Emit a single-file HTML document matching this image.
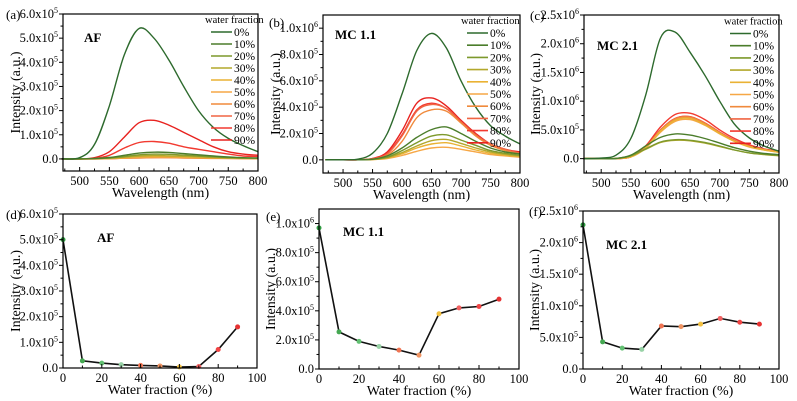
<!DOCTYPE html>
<html><head><meta charset="utf-8">
<style>
html,body{margin:0;padding:0;background:#fff;}
svg{display:block;}
svg text{font-family:"Liberation Serif","DejaVu Serif",serif;}
</style></head>
<body>
<svg id="fig" width="797" height="401" viewBox="0 0 797 401" xmlns="http://www.w3.org/2000/svg" font-family="Liberation Serif, DejaVu Serif, serif"></svg>
<script>
// ---------- data (intensity in units of 1e5) ----------
const wavelengths = [470,500,525,550,575,600,625,650,675,700,725,750,775,800];
const fractionLabels = ["0%","10%","20%","30%","40%","50%","60%","70%","80%","90%"];
const seriesColors = ["#2d6a2d","#4b7d2b","#7d992c","#b3a82c","#eab234","#f6a746","#f08a3c","#f06543","#f23a30","#e8221f"];

const afSpectra = [
 [0,0.05,0.6,2.2,4.3,5.4,5.0,4.1,3.0,2.0,1.3,0.85,0.55,0.3],
 [0,0,0.02,0.06,0.15,0.24,0.28,0.27,0.22,0.17,0.12,0.08,0.05,0.04],
 [0,0,0.01,0.04,0.1,0.17,0.2,0.19,0.16,0.12,0.09,0.06,0.04,0.03],
 [0,0,0.01,0.03,0.07,0.12,0.14,0.13,0.11,0.09,0.06,0.04,0.03,0.02],
 [0,0,0.01,0.02,0.05,0.09,0.1,0.1,0.08,0.06,0.05,0.03,0.02,0.02],
 [0,0,0,0.02,0.04,0.07,0.08,0.08,0.07,0.05,0.04,0.03,0.02,0.02],
 [0,0,0,0.01,0.03,0.04,0.05,0.05,0.04,0.03,0.02,0.02,0.01,0.01],
 [0,0,0,0.01,0.03,0.05,0.06,0.06,0.05,0.04,0.03,0.02,0.02,0.01],
 [0,0,0.02,0.15,0.45,0.68,0.72,0.65,0.5,0.4,0.3,0.2,0.12,0.1],
 [0,0,0.05,0.3,0.9,1.5,1.6,1.4,1.1,0.8,0.5,0.3,0.2,0.15]
];
const mc11Spectra = [
 [0,0,0.05,0.5,2.0,5.0,8.3,9.6,8.5,6.0,4.0,2.6,1.8,1.2],
 [0,0,0,0.05,0.3,0.9,1.7,2.3,2.5,2.0,1.4,0.9,0.6,0.45],
 [0,0,0,0.04,0.2,0.7,1.3,1.8,1.9,1.5,1.1,0.7,0.5,0.35],
 [0,0,0,0.03,0.17,0.55,1.05,1.45,1.55,1.25,0.9,0.6,0.42,0.3],
 [0,0,0,0.02,0.14,0.45,0.9,1.2,1.3,1.05,0.75,0.5,0.35,0.25],
 [0,0,0,0.02,0.1,0.33,0.65,0.9,0.95,0.8,0.6,0.4,0.3,0.2],
 [0,0,0,0.05,0.35,1.4,3.2,3.8,3.7,2.8,1.8,1.1,0.7,0.45],
 [0,0,0,0.08,0.45,1.8,3.7,4.2,3.9,2.9,1.9,1.2,0.8,0.5],
 [0,0,0,0.1,0.5,1.9,3.8,4.3,3.9,2.9,1.9,1.2,0.8,0.5],
 [0,0,0,0.1,0.6,2.2,4.3,4.7,4.1,3.0,2.0,1.2,0.8,0.6]
];
const mc21Spectra = [
 [0,0.1,0.6,3.5,11,21,22,18.5,14.5,10,6,3.6,2.2,1.3],
 [0,0,0.02,0.6,2.2,3.7,4.3,4.1,3.5,2.7,1.9,1.3,0.9,0.7],
 [0,0,0.02,0.5,1.7,2.9,3.3,3.2,2.8,2.2,1.5,1.0,0.75,0.55],
 [0,0,0.02,0.5,1.6,2.8,3.2,3.1,2.7,2.1,1.5,1.0,0.7,0.5],
 [0,0,0,0.3,1.9,4.8,6.7,7.0,5.9,4.4,3.0,2.1,1.5,1.1],
 [0,0,0,0.3,1.8,4.6,6.5,6.8,5.8,4.3,3.0,2.0,1.5,1.1],
 [0,0,0,0.3,1.9,4.9,6.9,7.2,6.1,4.5,3.1,2.1,1.6,1.2],
 [0,0,0,0.3,2.0,5.0,7.0,7.3,6.2,4.6,3.2,2.2,1.6,1.2],
 [0,0,0,0.3,2.2,5.5,7.7,7.9,6.8,5.0,3.5,2.4,1.7,1.3],
 [0,0,0,0.3,2.0,5.0,7.0,7.3,6.2,4.6,3.2,2.2,1.6,1.2]
];

const waterFractions = [0,10,20,30,40,50,60,70,80,90];
const afPeak = [5.0,0.28,0.19,0.13,0.1,0.08,0.04,0.06,0.72,1.6];
const mc11Peak = [9.7,2.55,1.9,1.55,1.3,0.95,3.8,4.2,4.3,4.8];
const mc21Peak = [22.8,4.3,3.3,3.1,6.8,6.7,7.1,8.0,7.4,7.1];
const dotColors = ["#2f9a40","#45a852","#62c072","#98d2a6","#f07452","#f09462","#f2c040","#f06060","#f04444","#e63232"];

const wlTicks = [500,550,600,650,700,750,800];
const wfTicks = [0,20,40,60,80,100];
const afYTicks = [0,1,2,3,4,5,6];
const afYLabels = [["0.0",""],["1.0x10","5"],["2.0x10","5"],["3.0x10","5"],["4.0x10","5"],["5.0x10","5"],["6.0x10","5"]];
const mc11YTicks = [0,2,4,6,8,10];
const mc11YLabels = [["0.0",""],["2.0x10","5"],["4.0x10","5"],["6.0x10","5"],["8.0x10","5"],["1.0x10","6"]];
const mc21YTicks = [0,5,10,15,20,25];
const mc21YLabels = [["0.0",""],["5.0x10","5"],["1.0x10","6"],["1.5x10","6"],["2.0x10","6"],["2.5x10","6"]];

// ---------- drawing ----------
const NS = "http://www.w3.org/2000/svg";
const FONT = "'Liberation Serif', 'DejaVu Serif', serif";
const svg = document.getElementById("fig");
function mk(tag, attrs, parent){
  const e = document.createElementNS(NS, tag);
  for (const k in attrs) e.setAttribute(k, attrs[k]);
  (parent||svg).appendChild(e);
  return e;
}
function txt(s, x, y, size, parent, anchor, weight){
  const t = mk("text",{x:x,y:y,"font-size":size,"font-family":FONT,"text-anchor":anchor||"start","font-weight":weight||"normal",fill:"#000"},parent);
  t.textContent = s;
  return t;
}
function smoothPath(pts){
  let d = "M"+pts[0][0].toFixed(1)+","+pts[0][1].toFixed(1);
  for (let i=0;i<pts.length-1;i++){
    const p0=pts[Math.max(0,i-1)], p1=pts[i], p2=pts[i+1], p3=pts[Math.min(pts.length-1,i+2)];
    const c1x=p1[0]+(p2[0]-p0[0])/6, c1y=p1[1]+(p2[1]-p0[1])/6;
    const c2x=p2[0]-(p3[0]-p1[0])/6, c2y=p2[1]-(p3[1]-p1[1])/6;
    d += " C"+c1x.toFixed(1)+","+c1y.toFixed(1)+" "+c2x.toFixed(1)+","+c2y.toFixed(1)+" "+p2[0].toFixed(1)+","+p2[1].toFixed(1);
  }
  return d;
}

function panel(p){
  const g = mk("g",{});
  
  
  const sx = v => p.x0 + (v - p.xmin) / (p.xmax - p.xmin) * (p.x1 - p.x0);
  const sy = v => p.y1 - (v - p.ymin) / (p.ymax - p.ymin) * (p.y1 - p.y0);

  if (p.spectra){
    for (let i = p.spectra.length - 1; i >= 0; i--){
      const pts = wavelengths.map((w,j)=> [sx(w), sy(p.spectra[i][j])]);
      const l = mk("path",{d:smoothPath(pts),fill:"none",stroke:seriesColors[i],"stroke-width":1.4,"stroke-linejoin":"round"},g);
      
      
    }
  }
  if (p.peaks){
    const pts = waterFractions.map((w,j)=> sx(w).toFixed(1)+","+sy(p.peaks[j]).toFixed(1)).join(" ");
    const l = mk("polyline",{points:pts,fill:"none",stroke:"#111","stroke-width":1.6},g);
    
    
    waterFractions.forEach((w,j)=>{
      const c = mk("circle",{cx:sx(w),cy:sy(p.peaks[j]),r:2.5,fill:dotColors[j]},g);
      
      
    });
  }
  const fr = mk("rect",{x:p.x0,y:p.y0,width:p.x1-p.x0,height:p.y1-p.y0,fill:"none",stroke:"#000","stroke-width":1.2},g);
  
  
  const xt = mk("g",{},g);
  
  
  p.xticks.forEach((v,i)=>{
    mk("line",{x1:sx(v),x2:sx(v),y1:p.y1,y2:p.y1-4,stroke:"#000","stroke-width":1},xt);
    if (i < p.xticks.length-1){
      const m = (v + p.xticks[i+1])/2;
      mk("line",{x1:sx(m),x2:sx(m),y1:p.y1,y2:p.y1-2.5,stroke:"#000","stroke-width":1},xt);
    }
    if (i===0 && p.xticks[0]-(p.xticks[1]-p.xticks[0])/2 > p.xmin){
      const m = v-(p.xticks[1]-p.xticks[0])/2;
      mk("line",{x1:sx(m),x2:sx(m),y1:p.y1,y2:p.y1-2.5,stroke:"#000","stroke-width":1},xt);
    }
    txt(String(v), sx(v), p.y1+14, 12.5, xt, "middle");
  });
  const xtitle = txt(p.xtitle, (p.x0+p.x1)/2, p.y1+26, 14, g, "middle");
  
  
  const yt = mk("g",{},g);
  
  
  p.yticks.forEach((v,i)=>{
    mk("line",{x1:p.x0,x2:p.x0-4,y1:sy(v),y2:sy(v),stroke:"#000","stroke-width":1},yt);
    if (i < p.yticks.length-1){
      const m=(v+p.yticks[i+1])/2;
      mk("line",{x1:p.x0,x2:p.x0-2.5,y1:sy(m),y2:sy(m),stroke:"#000","stroke-width":1},yt);
    }
    const lab = p.ylabels[i];
    const t = mk("text",{x:p.x0-5,y:sy(v)+4,"font-size":12.5,"font-family":FONT,"text-anchor":"end",fill:"#000"},yt);
    t.appendChild(document.createTextNode(lab[0]));
    if (lab[1]){
      const s = mk("tspan",{dy:-5,"font-size":8},t);
      s.textContent = lab[1];
    }
  });
  const yTitle = mk("text",{x:0,y:0,"font-size":14,"font-family":FONT,"text-anchor":"middle",fill:"#000",transform:`translate(${p.ytx},${(p.y0+p.y1)/2}) rotate(-90)`},g);
  yTitle.textContent = "Intensity (a.u.)";
  
  
  const tg = txt(p.tag, p.tagx, p.tagy, 13, g);
  
  
  const nm = txt(p.label, p.lx, p.ly, 13, g, "start", "bold");
  
  
  if (p.spectra){
    const lg = mk("g",{},g);
    
    
    txt("water fraction", p.legx-6, p.legy-9, 10.5, lg);
    fractionLabels.forEach((f,i)=>{
      const yy = p.legy + i*p.legstep;
      const e = mk("g",{},lg);
      
      
      mk("line",{x1:p.legx,x2:p.legx+21,y1:yy,y2:yy,stroke:seriesColors[i],"stroke-width":1.6},e);
      txt(f, p.legx+23, yy+4, 11.5, e);
    });
  }
}

panel({name:"panel-a-af-spectra",x0:63,x1:258,y0:14,y1:171,xmin:472,xmax:800,ymin:-0.5,ymax:6.0,
  xticks:wlTicks,yticks:afYTicks,ylabels:afYLabels,spectra:afSpectra,xtitle:"Wavelength (nm)",ytx:20,
  tag:"(a)",tagx:6,tagy:19,label:"AF",lx:84,ly:42,legx:211,legy:32,legstep:12});
panel({name:"panel-b-mc11-spectra",x0:323,x1:520,y0:15,y1:173,xmin:466,xmax:800,ymin:-1,ymax:11,
  xticks:wlTicks,yticks:mc11YTicks,ylabels:mc11YLabels,spectra:mc11Spectra,xtitle:"Wavelength (nm)",ytx:280,
  tag:"(b)",tagx:269,tagy:27,label:"MC 1.1",lx:335,ly:39,legx:467,legy:33,legstep:12.2});
panel({name:"panel-c-mc21-spectra",x0:584,x1:779,y0:15,y1:173,xmin:471,xmax:800,ymin:-2.5,ymax:25,
  xticks:wlTicks,yticks:mc21YTicks,ylabels:mc21YLabels,spectra:mc21Spectra,xtitle:"Wavelength (nm)",ytx:540,
  tag:"(c)",tagx:530,tagy:20,label:"MC 2.1",lx:597,ly:50,legx:730,legy:33.5,legstep:12.2});
panel({name:"panel-d-af-intensity",x0:63,x1:257,y0:214,y1:368,xmin:0,xmax:100,ymin:0,ymax:6,
  xticks:wfTicks,yticks:afYTicks,ylabels:afYLabels,peaks:afPeak,xtitle:"Water  fraction (%)",ytx:20,
  tag:"(d)",tagx:6,tagy:219,label:"AF",lx:97,ly:242});
panel({name:"panel-e-mc11-intensity",x0:319,x1:519,y0:209,y1:369,xmin:0,xmax:100,ymin:0,ymax:11,
  xticks:wfTicks,yticks:mc11YTicks,ylabels:mc11YLabels,peaks:mc11Peak,xtitle:"Water fraction (%)",ytx:275,
  tag:"(e)",tagx:266,tagy:221,label:"MC 1.1",lx:343,ly:236});
panel({name:"panel-f-mc21-intensity",x0:583,x1:779,y0:211,y1:369,xmin:0,xmax:100,ymin:0,ymax:25,
  xticks:wfTicks,yticks:mc21YTicks,ylabels:mc21YLabels,peaks:mc21Peak,xtitle:"Water fraction (%)",ytx:539,
  tag:"(f)",tagx:529,tagy:216,label:"MC 2.1",lx:606,ly:249});
</script>
</body></html>
